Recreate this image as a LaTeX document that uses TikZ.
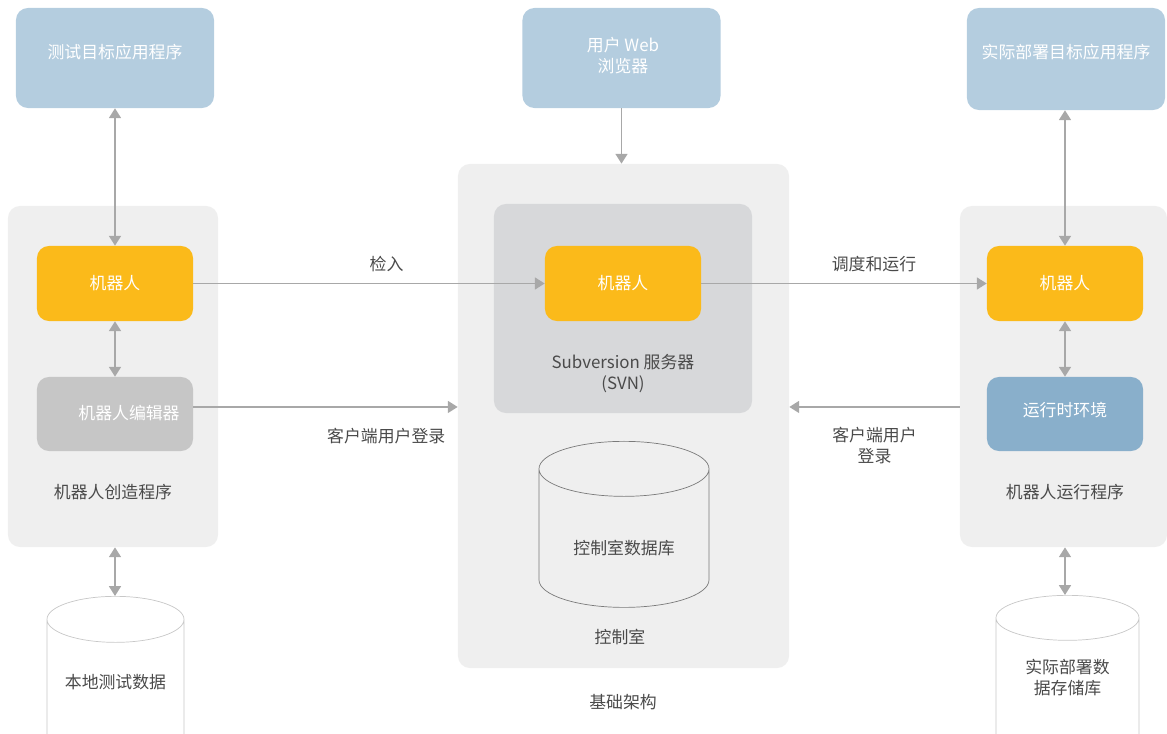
\documentclass[tikz,border=0pt]{standalone}
\usepackage{fontspec}
\setmainfont{Noto Sans CJK SC}
\usetikzlibrary{shapes.geometric,arrows.meta}

\definecolor{appblue}{HTML}{B4CDDF}
\definecolor{robotorange}{HTML}{FBBA1A}
\definecolor{panelgray}{HTML}{EFEFEF}
\definecolor{svngray}{HTML}{D7D8DA}
\definecolor{toolgray}{HTML}{C6C6C6}
\definecolor{runblue}{HTML}{89AFCB}
\definecolor{linkgray}{HTML}{A8A8A8}
\definecolor{textgray}{HTML}{4A4A4A}
\definecolor{dbline}{HTML}{C8C8C8}
\definecolor{dbdark}{HTML}{7A7A7A}

\begin{document}
\begin{tikzpicture}
        [x=0.025cm, y=-0.025cm, font=\fontsize{12}{15}\selectfont,
         panel/.style={fill=panelgray, rounded corners=0.3cm, inner sep=0pt},
         svnbox/.style={fill=svngray, rounded corners=0.3cm, inner sep=0pt},
         app/.style={fill=appblue, rounded corners=0.3cm, inner sep=0pt, minimum width=4.95cm, minimum height=2.5cm},
         robot/.style={fill=robotorange, rounded corners=0.3cm, text=white, minimum width=3.9cm, minimum height=1.875cm},
         tool/.style={rounded corners=0.3cm, text=white, minimum width=3.9cm, minimum height=1.85cm},
         db/.style={cylinder, shape border rotate=90, inner sep=4pt, anchor=north, draw=dbline, line width=0.5pt},
         wtxt/.style={text=white, align=center},
         txt/.style={text=textgray, align=center},
         one/.style={draw=linkgray, line width=1.2pt, -{Triangle[width=8.5pt,length=7pt]}},
         dbl/.style={draw=linkgray, line width=1.2pt, {Triangle[width=8.5pt,length=7pt]}-{Triangle[width=8.5pt,length=7pt]}}]
        \clip (0,0) rectangle (1167,734);
        % panels
        \path node (lpanel) at (113,376.5) [panel, minimum width=5.25cm, minimum height=8.525cm] {}
              node (cpanel) at (623.5,416) [panel, minimum width=8.275cm, minimum height=12.6cm] {}
              node (rpanel) at (1063.5,376.5) [panel, minimum width=5.175cm, minimum height=8.525cm] {}
              node (svn) at (623,308.5) [svnbox, minimum width=6.45cm, minimum height=5.225cm] {};
        % top applications
        \path node (tleft) at (115,58) [app] {}
              node (browser) at (621.5,58) [app] {}
              node (tright) at (1066,59) [app, minimum height=2.55cm] {}
              node (tlefttxt) at (115,52) [wtxt] {测试目标应用程序}
              node (browsertxt) at (623,56) [wtxt] {用户 Web\\浏览器}
              node (trighttxt) at (1066,52) [wtxt] {实际部署目标应用程序};
        % robots and tools
        \path node (lrobot) at (115,283.5) [robot] {机器人}
              node (crobot) at (623,283.5) [robot] {机器人}
              node (rrobot) at (1065,283.5) [robot] {机器人}
              node (editor) at (115,414) [tool, fill=toolgray] {}
              node (editortxt) at (129,413) [wtxt] {机器人编辑器}
              node (runtime) at (1065,414) [tool, fill=runblue] {};
        \path node (runtimetxt) at (1065,410) [wtxt] {运行时环境};
        % databases
        \path node (cdb) at (624,441) [db, aspect=4.89, draw=dbdark, fill=panelgray, minimum width=4.25cm, minimum height=4.15cm] {}
              node (ldb) at (115.5,596) [db, aspect=4.09, fill=white, minimum width=3.425cm, minimum height=4.25cm] {}
              node (rdb) at (1067.5,595) [db, aspect=4.0, fill=white, minimum width=3.575cm, minimum height=4.25cm] {}
              node (cdbtxt) at (624,548) [txt] {控制室数据库}
              node (ldbtxt) at (115.5,682) [txt] {本地测试数据}
              node (rdbtxt) at (1067.5,678) [txt] {实际部署数\\据存储库};
        % captions
        \path node (lpaneltxt) at (113,492) [txt] {机器人创造程序}
              node (rpaneltxt) at (1065,492) [txt] {机器人运行程序}
              node (svntxt) at (623,373.5) [txt] {Subversion 服务器\\(SVN)}
              node (cpaneltxt) at (620,637) [txt] {控制室}
              node (infratxt) at (623,702) [txt] {基础架构};
        % connectors
        \draw [dbl] (tleft) -- (lrobot);
        \draw [dbl] (lrobot) -- (editor);
        \draw [dbl] (lpanel.south -| lrobot) -- (ldb.north -| lrobot);
        \draw [one] (browser.south) -- (browser.south |- cpanel.north);
        \draw [one] (lrobot) -- node [txt, pos=.55, yshift=13.5pt] {检入} (crobot);
        \draw [one] ([yshift=5pt]editor.east) -- ([yshift=5pt]editor.east -| cpanel.west)
              node [txt, pos=.73, yshift=-20.6pt] {客户端用户登录};
        \draw [one] (crobot) -- node [txt, pos=.605, yshift=13.5pt] {调度和运行} (rrobot);
        \draw [one] ([yshift=5pt]runtime.west -| rpanel.west) -- ([yshift=5pt]runtime.west -| cpanel.east)
              node [txt, pos=.5, yshift=-27.4pt] {客户端用户\\登录};
        \draw [dbl] (tright.south -| rrobot) -- (rrobot);
        \draw [dbl] (rrobot) -- (runtime);
        \draw [dbl] (rpanel.south -| rrobot) -- (rdb.north -| rrobot);
      \end{tikzpicture}
\end{document}
